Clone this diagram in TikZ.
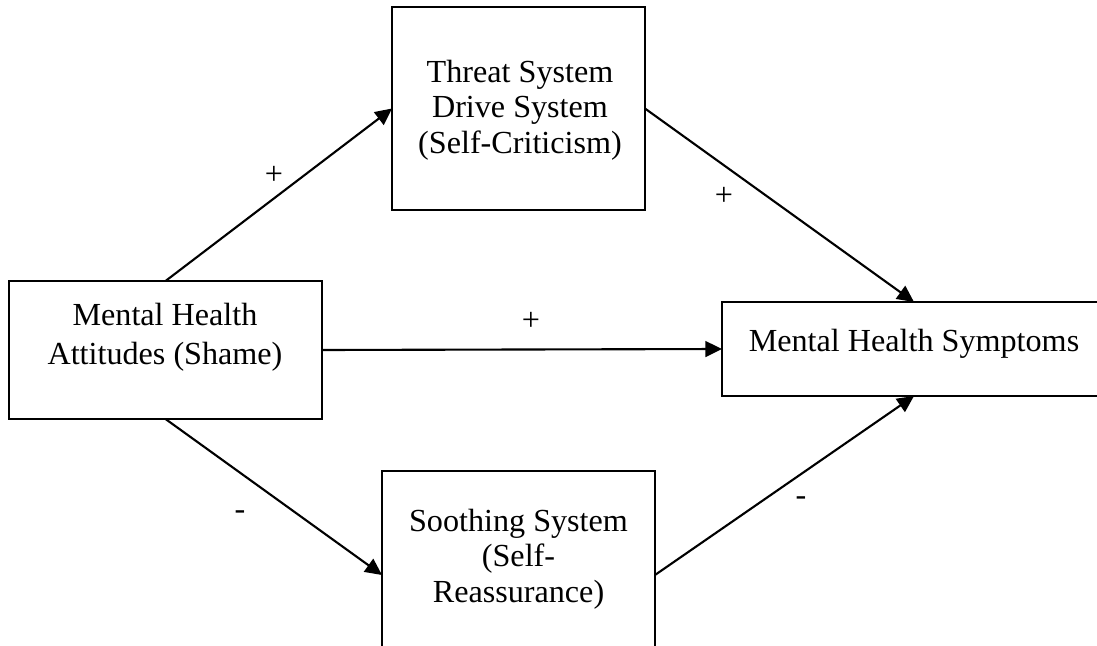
\documentclass[tikz,border=0pt]{standalone}
\usepackage{fontspec}
\setmainfont{Liberation Serif}
\usetikzlibrary{arrows.meta,positioning}

\tikzset{
    box/.style={draw, line width=1.2pt, rectangle, inner sep=0pt, outer sep=0pt},
    txt/.style={align=center, inner sep=0pt, font=\fontsize{18.3}{20.3}\selectfont},
    sign/.style={inner sep=0pt, font=\fontsize{18.3}{20.3}\selectfont},
    link/.style={line width=1.2pt, -{Triangle[length=9.5pt,width=9pt]}}
}

\begin{document}
\begin{tikzpicture}[x=0.02cm, y=-0.02cm]

                % Page frame (pixel grid, y downwards)
                \useasboundingbox (0,0) rectangle (1097,645);

                % Boxes
                \node[box, minimum width=5.06cm, minimum height=4.06cm] (threat) at (518.5,108.5) {};
                \node[box, minimum width=6.26cm, minimum height=2.76cm] (attit) at (165.5,350) {};
                \node[box, minimum width=7.68cm, minimum height=1.88cm] (sympt) at (914,349) {};
                \node[box, minimum width=5.46cm, minimum height=4.16cm] (sooth) at (518.5,575) {};

                % Box texts (set a little above the middle)
                \node[txt] (threat-txt) at (520,110) {Threat System\\Drive System\\(Self-Criticism)};
                \node[txt] (attit-txt) at (165,337) {Mental Health\\[2pt]Attitudes (Shame)};
                \node[txt] (sympt-txt) at (914,343.5) {Mental Health Symptoms};
                \node[txt] (sooth-txt) at (518.5,559) {Soothing System\\(Self-\\Reassurance)};

                % Paths
                \draw[link] (attit.north) -- (threat.west);
                \draw[link] (threat.east) -- (sympt.north);
                \draw[link] (attit.east) -- (sympt.west);
                \draw[link] (attit.south) -- (sooth.west);
                \draw[link] (sooth.east) -- (sympt.south);

                % Signs
                \node[sign] (sign-a) at (274,175) {+};
                \node[sign] (sign-b) at (724,196) {+};
                \node[sign] (sign-c) at (531,321) {+};
                \node[sign] (sign-d) at (240,515) {-};
                \node[sign] (sign-e) at (801,501) {-};
            \end{tikzpicture}
\end{document}
